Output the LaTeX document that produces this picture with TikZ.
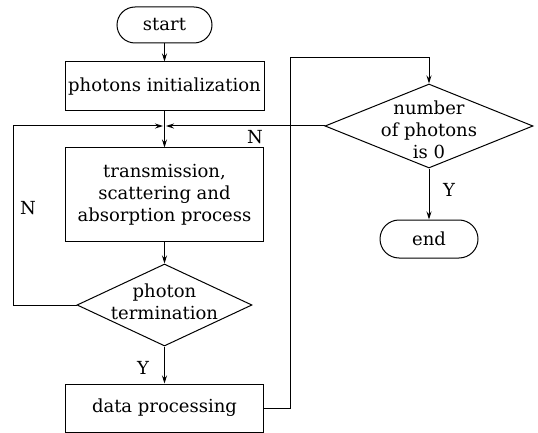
\documentclass[tikz,border=0pt]{standalone}
\usepackage{fontspec}
\setmainfont{DejaVu Serif}
\usetikzlibrary{shapes.geometric,arrows.meta}
\begin{document}
\begin{tikzpicture}[x=1pt,y=1pt,
  every node/.style={font=\fontsize{18}{22}\selectfont},
  box/.style={draw,line width=1pt,inner sep=0pt},
  term/.style={draw,line width=1pt,inner sep=0pt,rounded corners=18pt},
  dia/.style={draw,line width=1pt,diamond,inner sep=0pt},
  txt/.style={align=center,inner sep=0pt},
  lbl/.style={inner sep=0pt},
  arr/.style={line width=1pt,-{Stealth[length=8pt,width=5pt]}},
  ln/.style={line width=1pt}]
\useasboundingbox (0,0) rectangle (538,-433);
\node[term,minimum width=95pt,minimum height=36pt] (start) at (164.5,-25) {start};
\node[box,minimum width=199pt,minimum height=49pt] (init) at (164.5,-86.5) {photons initialization};
\node[box,minimum width=198pt,minimum height=93pt,align=center] (trans) at (164.5,-194.5) {transmission,\\scattering and\\absorption process};
\node[dia,minimum width=175pt,minimum height=82pt] (pt) at (164.5,-305) {};
\node[txt] (ptt) at (164.5,-302) {photon\\termination};
\node[box,minimum width=198pt,minimum height=48pt] (dp) at (164.5,-408) {data processing};
\node[dia,minimum width=208pt,minimum height=84pt] (nd) at (429,-126) {};
\node[txt] (ndt) at (429,-130) {number\\of photons\\is 0};
\node[term,minimum width=98pt,minimum height=38pt,rounded corners=19pt] (end) at (429,-239) {end};
\coordinate (J) at (164.5,-126);
\coordinate (L) at (13,-126);
\coordinate (R) at (290,-58);
\draw[arr] (start.south) -- (init.north);
\draw[arr] (init.south) -- (trans.north);
\draw[arr] (trans.south) -- (pt.north);
\draw[arr] (pt.south) -- (dp.north);
\draw[arr] (pt.west) -| (L) -- ([xshift=-1.5pt]J);
\draw[arr] (nd.west) -- ([xshift=1.5pt]J);
\draw[arr] (dp.east) -| (R) -| (nd.north);
\draw[arr] (nd.south) -- (end.north);
\node[lbl] (n1) at (255,-137) {N};
\node[lbl] (n2) at (28,-208) {N};
\node[lbl] (y1) at (143,-368) {Y};
\node[lbl] (y2) at (449,-190) {Y};
\end{tikzpicture}
\end{document}
